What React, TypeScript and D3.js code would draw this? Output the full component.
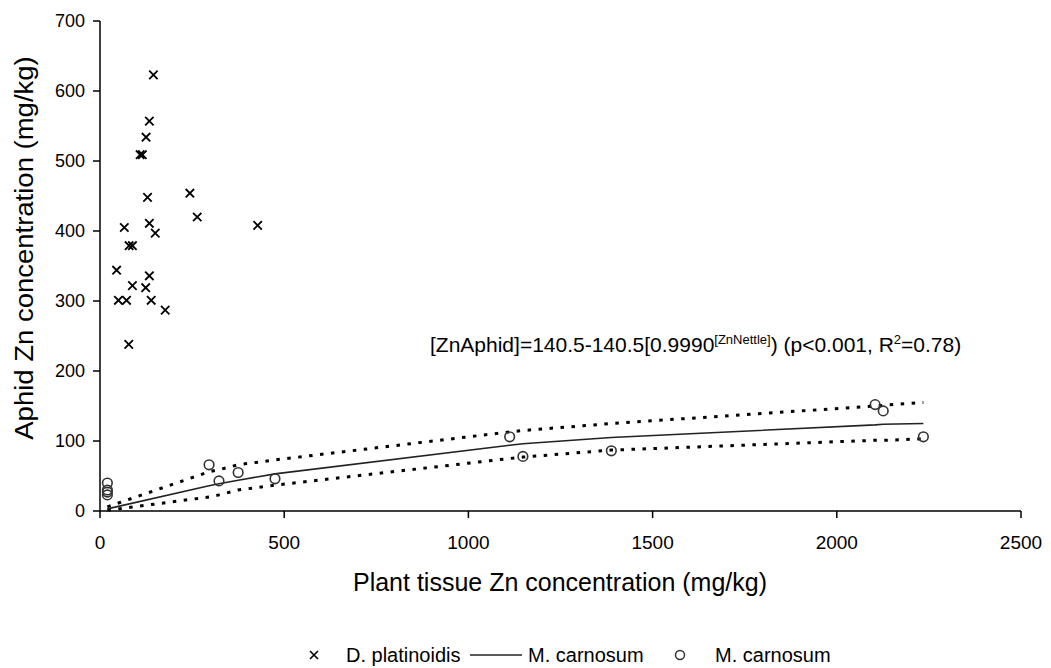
import React from "react";
import * as d3 from "d3";

// D. platinoidis (x markers)
const platX = [145, 134, 125, 109, 115, 129, 244, 264, 428, 66, 134, 150, 79, 88, 45, 134, 88, 124, 50, 72, 139, 177, 78];
const platY = [623, 557, 534, 509, 509, 448, 454, 420, 408, 405, 411, 397, 379, 379, 344, 336, 322, 319, 301, 301, 301, 287, 238];

// M. carnosum (circles)
const carnX = [20, 20, 20, 20, 296, 323, 375, 475, 1112, 1148, 1388, 2104, 2126, 2235];
const carnY = [40, 30, 27, 23, 66, 43, 55, 46, 106, 78, 86, 152, 143, 106];

// Fitted curve and confidence band, at sorted plant values
const fitX = [20, 296, 323, 375, 475, 1112, 1148, 1388, 2104, 2126, 2235];
const fitY = [3, 36, 39, 44, 53, 94, 96, 105, 123, 124, 125];
const upperY = [6, 56, 59, 66, 73, 113, 115, 125, 150, 151, 155];
const lowerY = [1, 20, 23, 30, 37, 75, 77, 87, 101, 101, 103];

const xTicks = [0, 500, 1000, 1500, 2000, 2500];
const yTicks = [0, 100, 200, 300, 400, 500, 600, 700];

const FONT = "'Liberation Sans', Arial, sans-serif";

export default function App() {
  const W = 1051, H = 668;
  const x = d3.scaleLinear().domain([0, 2500]).range([100, 1021]);
  const y = d3.scaleLinear().domain([0, 700]).range([511, 21]);
  const line = d3.line<[number, number]>().x(d => x(d[0])).y(d => y(d[1]));
  const fit = fitX.map((v, i) => [v, fitY[i]] as [number, number]);
  const up = fitX.map((v, i) => [v, upperY[i]] as [number, number]);
  const lo = fitX.map((v, i) => [v, lowerY[i]] as [number, number]);
  const s = 4.2;
  const ly = 655;
  return (
    <svg width={W} height={H} style={{ position: "absolute", left: 0, top: 0, background: "#fff" }} fontFamily={FONT}>
      <rect width={W} height={H} fill="#fff" />
      {/* axes */}
      <line x1={x(0)} x2={x(0)} y1={y(700)} y2={y(0)} stroke="#000" strokeWidth={1.5} />
      <line x1={x(0)} x2={x(2500)} y1={y(0)} y2={y(0)} stroke="#000" strokeWidth={1.5} />
      {yTicks.map(t => (
        <g key={"y" + t}>
          <line x1={x(0) - 7} x2={x(0)} y1={y(t)} y2={y(t)} stroke="#000" strokeWidth={1.5} />
          <text x={x(0) - 15} y={y(t)} dy="0.35em" textAnchor="end" fontSize={18} fill="#000">{t}</text>
        </g>
      ))}
      {xTicks.map(t => (
        <g key={"x" + t}>
          <line x1={x(t)} x2={x(t)} y1={y(0)} y2={y(0) + 7} stroke="#000" strokeWidth={1.5} />
          <text x={x(t)} y={y(0) + 38} textAnchor="middle" fontSize={19} fill="#000">{t}</text>
        </g>
      ))}
      <text x={560} y={591} textAnchor="middle" fontSize={25} fill="#000">Plant tissue Zn concentration (mg/kg)</text>
      <text transform={`translate(33,248) scale(1,1.1) rotate(-90)`} textAnchor="middle" fontSize={25} fill="#000">Aphid Zn concentration (mg/kg)</text>

      {/* band and fit */}
      <path d={line(up) || ""} fill="none" stroke="#000" strokeWidth={3} strokeDasharray="3.5,7.5" />
      <path d={line(lo) || ""} fill="none" stroke="#000" strokeWidth={3} strokeDasharray="3.5,7.5" />
      <path d={line(fit) || ""} fill="none" stroke="#222" strokeWidth={1.6} />

      {/* circles */}
      {carnX.map((v, i) => (
        <circle key={"c" + i} cx={x(v)} cy={y(carnY[i])} r={4.8} fill="none" stroke="#333" strokeWidth={1.6} />
      ))}
      {/* crosses */}
      {platX.map((v, i) => (
        <path key={"p" + i} d={`M${x(v) - s},${y(platY[i]) - s}L${x(v) + s},${y(platY[i]) + s}M${x(v) - s},${y(platY[i]) + s}L${x(v) + s},${y(platY[i]) - s}`} stroke="#000" strokeWidth={1.8} fill="none" />
      ))}

      {/* equation */}
      <text x={430} y={352} fontSize={21} fill="#000">
        [ZnAphid]=140.5-140.5[0.9990<tspan dy={-8} fontSize={13}>[ZnNettle]</tspan><tspan dy={8}>) (p&lt;0.001, R</tspan><tspan dy={-8} fontSize={13}>2</tspan><tspan dy={8}>=0.78)</tspan>
      </text>

      {/* legend */}
      <g fontSize={20} fill="#000">
        <path d={`M${314 - 4},${ly - 4}L${314 + 4},${ly + 4}M${314 - 4},${ly + 4}L${314 + 4},${ly - 4}`} stroke="#000" strokeWidth={1.6} />
        <text x={346} y={ly} dy="0.35em">D. platinoidis</text>
        <line x1={470} x2={522} y1={ly} y2={ly} stroke="#222" strokeWidth={1.5} />
        <text x={528} y={ly} dy="0.35em">M. carnosum</text>
        <circle cx={680} cy={ly} r={4.5} fill="none" stroke="#333" strokeWidth={1.5} />
        <text x={715} y={ly} dy="0.35em">M. carnosum</text>
      </g>
    </svg>
  );
}
